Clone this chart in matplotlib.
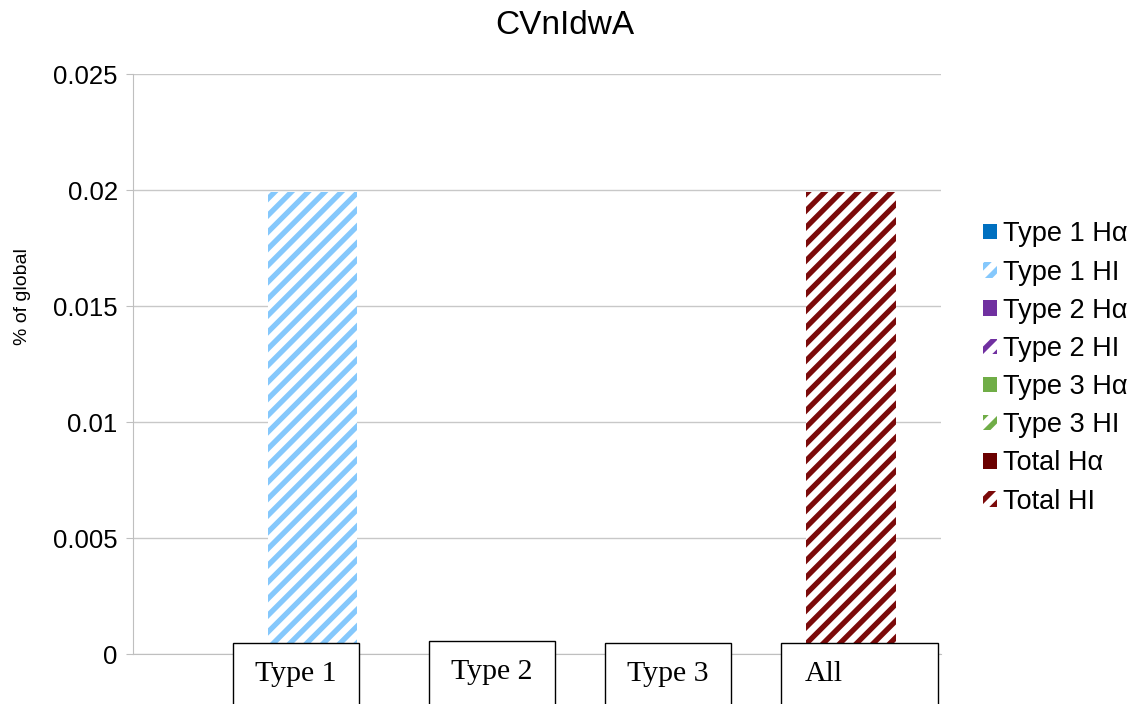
import matplotlib.pyplot as plt
from matplotlib.patches import Patch, Rectangle

plt.rcParams['font.family'] = ['Liberation Sans', 'DejaVu Sans']
plt.rcParams['hatch.linewidth'] = 3.8

# one category, eight series
series = ['Type 1 H\u03b1', 'Type 1 HI', 'Type 2 H\u03b1', 'Type 2 HI',
          'Type 3 H\u03b1', 'Type 3 HI', 'Total H\u03b1', 'Total HI']
values = [0, 0.0199, 0, 0, 0, 0, 0, 0.0199]
colors = ['#0070c0', '#85c8fc', '#7030a0', '#7030a0',
          '#70ad47', '#70ad47', '#6b0000', '#7b0a0a']
hatched = [False, True, False, True, False, True, False, True]

group_labels = ['Type 1', 'Type 2', 'Type 3', 'All']

fig = plt.figure(figsize=(11.42, 7.04), dpi=100)
W, H = 1142, 704
ax = fig.add_axes([133 / W, 1 - 654 / H, 808 / W, 580 / H])

for i, (v, c, h) in enumerate(zip(values, colors, hatched)):
    if h:
        ax.bar(i + 1, v, width=1.0, facecolor='white', edgecolor=c,
               hatch='//', linewidth=0)
    else:
        ax.bar(i + 1, v, width=1.0, color=c, linewidth=0)

ax.set_xlim(0, 9)
ax.set_ylim(0, 0.025)
ax.set_yticks([0, 0.005, 0.01, 0.015, 0.02, 0.025])
ax.set_yticklabels(['0', '0.005', '0.01', '0.015', '0.02', '0.025'], fontsize=18.5)
ax.set_xticks([])
ax.yaxis.grid(True, color='#c8c8c8', linewidth=1)
ax.set_axisbelow(True)
for s in ['top', 'right']:
    ax.spines[s].set_visible(False)
ax.spines['left'].set_color('#bfbfbf')
ax.spines['bottom'].set_color('#bfbfbf')
ax.tick_params(axis='y', length=5, color='#bfbfbf', pad=6)
ax.set_ylabel('% of global', fontsize=14)
ax.yaxis.set_label_coords(-0.126, 0.617)

fig.text(565 / W, 1 - 26 / H, 'CVnIdwA', ha='center', va='center', fontsize=24)

# hand-placed label boxes under the axis
boxes = [(233, 643, 'center'), (429, 641, 'center'), (605, 643, 'center'), (781, 643, 'left')]
for (x0, y0, al), lab in zip(boxes, group_labels):
    bw = 157 if lab == 'All' else 126
    fig.patches.append(Rectangle((x0 / W, 1 - 720 / H), bw / W, (720 - y0) / H,
                                 transform=fig.transFigure, facecolor='white',
                                 edgecolor='black', linewidth=1, zorder=5))
    tx = x0 + bw / 2 if al == 'center' else x0 + 24
    fig.text(tx / W, 1 - (y0 + 31) / H, lab, ha=al, va='center',
             fontsize=21.5, family='Liberation Serif', zorder=6)

handles = []
for lab, c, h in zip(series, colors, hatched):
    if h:
        handles.append(Patch(facecolor='white', edgecolor=c, hatch='//', linewidth=0, label=lab))
    else:
        handles.append(Patch(facecolor=c, linewidth=0, label=lab))
fig.legend(handles=handles, loc='center left', bbox_to_anchor=(983 / W, 1 - 368 / H),
           frameon=False, fontsize=19.5, handlelength=0.5, handleheight=0.5,
           handletextpad=0.25, labelspacing=0.45, borderaxespad=0, borderpad=0)

fig.savefig('out.png', dpi=100)
